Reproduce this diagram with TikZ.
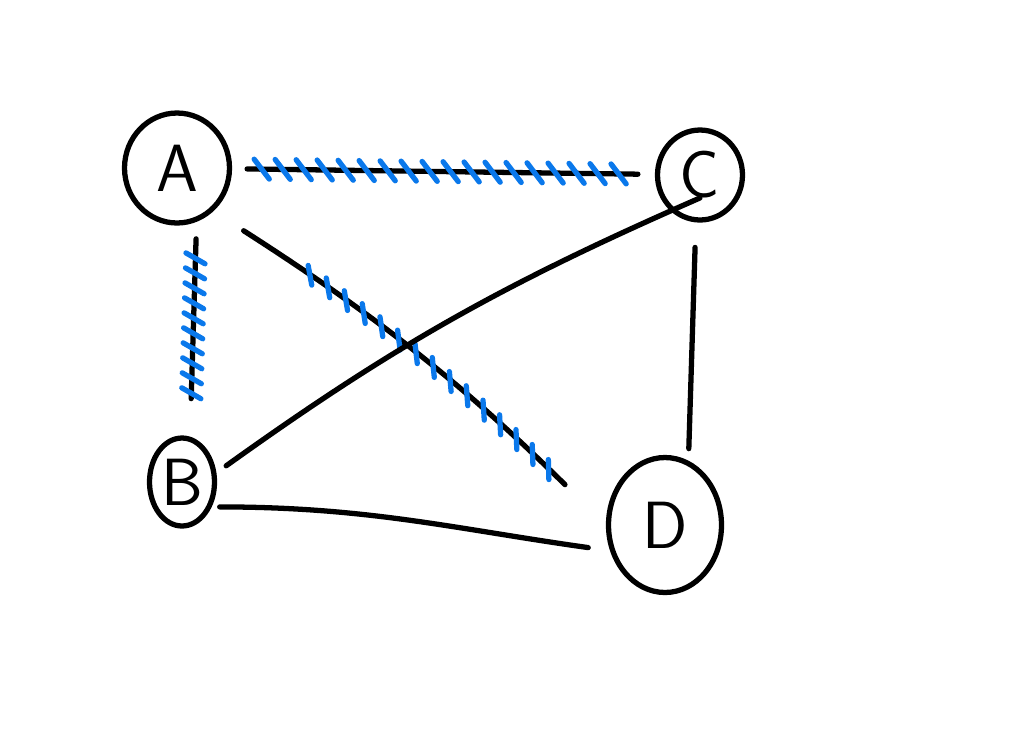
\documentclass[tikz,border=0pt]{standalone}
\usetikzlibrary{shapes.geometric,decorations.markings}
\definecolor{hatchblue}{RGB}{10,120,235}

\begin{document}
\begin{tikzpicture}[
	x=0.02cm, y=-0.02cm,
	vertex/.style={ ellipse, draw, line width=3pt, inner sep=0pt, font=\sffamily\fontsize{38}{38}\selectfont },
	link/.style={ line width=3pt, line cap=round },
	tick angle/.store in=\tickangle, tick angle=-60,
	tick half/.store in=\tickhalf, tick half=0.22cm,
	tickmark/.style={ hatchblue, line width=3pt, line cap=round, shorten <=0pt, shorten >=0pt },
	hatched/.style={ postaction={decorate, decoration={markings,
		mark=between positions #1 with {\draw[tickmark, rotate=\tickangle] (-\tickhalf,0pt) -- (\tickhalf,0pt);}}}}
]
\useasboundingbox (0,0) rectangle (1024,728);

\node at (177,168) (a) [vertex, minimum width=2.1cm, minimum height=2.2cm] {A};
\node at (700,175) (c) [vertex, minimum width=1.7cm, minimum height=1.8cm] {C};
\node at (182,482) (b) [vertex, minimum width=1.3cm, minimum height=1.76cm] {B};
\node at (665,525) (d) [vertex, minimum width=2.26cm, minimum height=2.7cm] {D};

% marked edges from A
\draw[link, hatched=0.07 and 0.96 step 0.42cm, tick angle=-52, tick half=0.25cm, shorten <=0.3cm, shorten >=0.34cm] (a) to (c);
\draw[link, hatched=0.17 and 0.82 step 0.3cm, tick angle=62, shorten <=0.34cm, shorten >=0.76cm] (a.-70) to (b.80);
\draw[link, hatched=0.23 and 0.87 step 0.44cm, tick angle=-45, tick half=0.2cm, shorten <=0.72cm, shorten >=1.15cm] (a.-50) to[bend left=6] (d.180);

% plain edges
\draw[link, shorten <=0.5cm, shorten >=0.24cm] (c.-95) to (d.70);
\draw[link, shorten >=0.24cm] (c.base) to[bend right=6] (b.15);
\draw[link, shorten <=0.16cm, shorten >=0.44cm] (b.-40) to[out=0, in=172] (d.205);

\end{tikzpicture}
\end{document}
